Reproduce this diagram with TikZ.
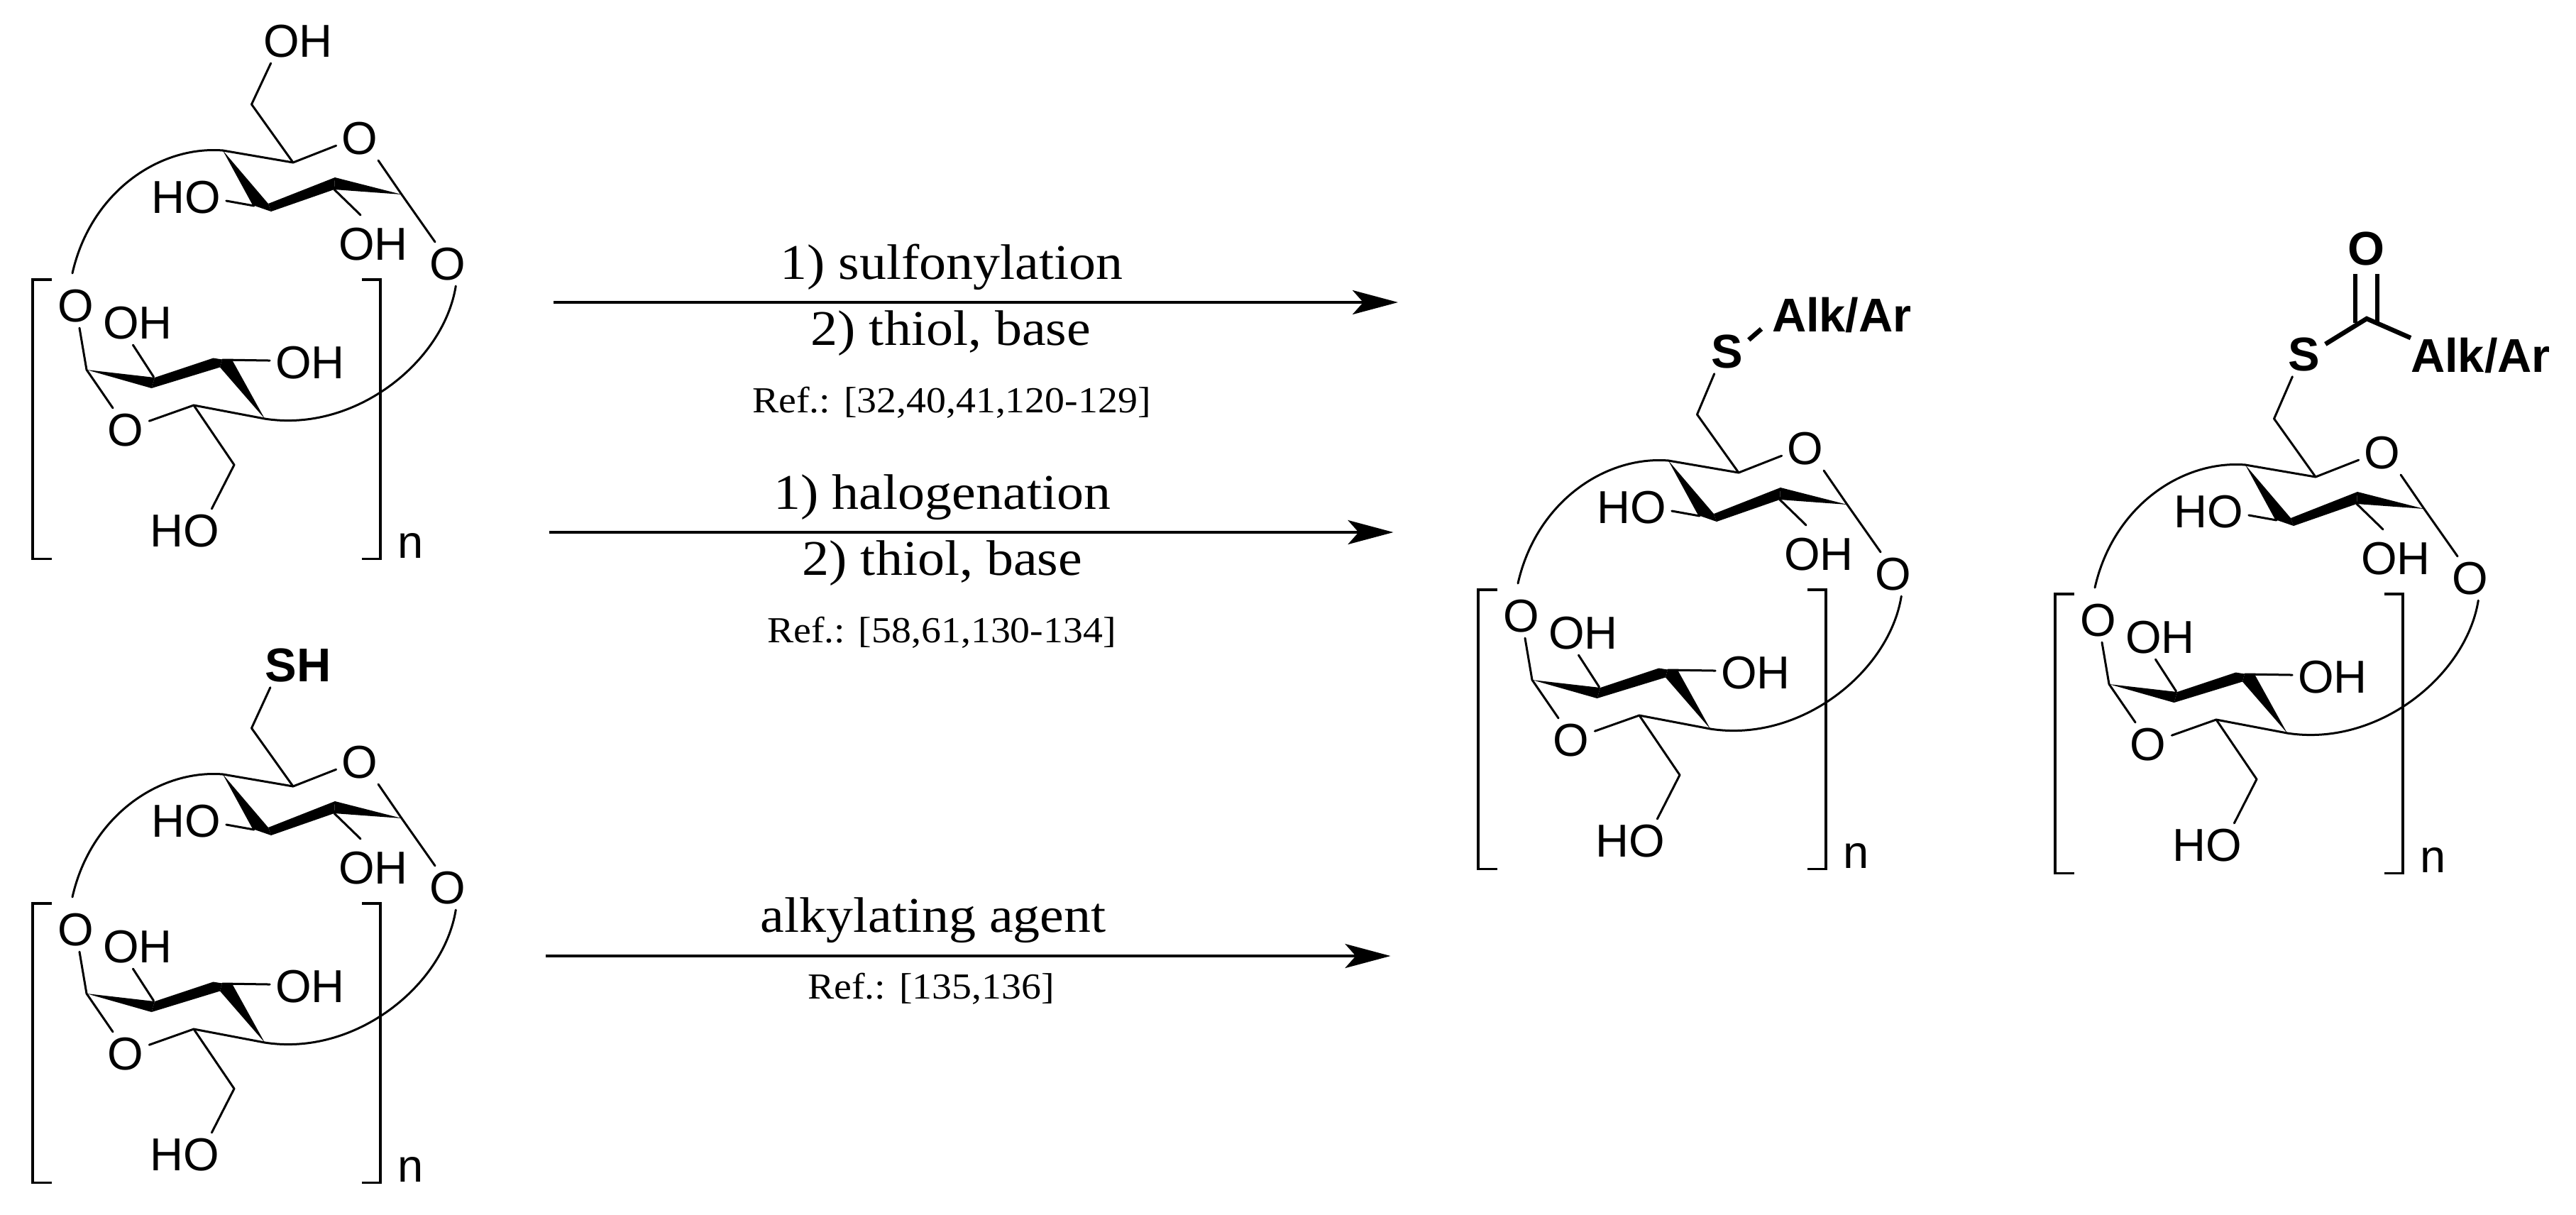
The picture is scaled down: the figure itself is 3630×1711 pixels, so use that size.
\documentclass[tikz,border=0pt]{standalone}
\usepackage{fontspec}
\setmainfont{Liberation Sans}
\newfontfamily\reagentfont[FakeStretch=1.08]{Liberation Serif}
\usetikzlibrary{arrows.meta}

\tikzset{
    bond/.style={line width=0.03cm, line cap=round, line join=round},
    heavybond/.style={line width=0.065cm},
    atom/.style={font=\fontsize{18.5}{20}\selectfont, inner sep=0.08cm, outer sep=0pt},
    boldatom/.style={font=\fontsize{19}{20}\selectfont\bfseries, inner sep=0.08cm, outer sep=0pt},
    reagent/.style={font=\fontsize{20}{22}\selectfont\reagentfont, inner sep=0pt, anchor=base},
    refs/.style={font=\fontsize{14.7}{16}\selectfont\reagentfont, inner sep=0pt, anchor=base},
    rxnarrow/.style={line width=0.04cm, -{Stealth[length=0.64cm,width=0.34cm,inset=0.15cm]}},
    sugar/.pic={
        % ring atoms
        \coordinate (c1) at (566,274);
        \coordinate (c2) at (471,267);
        \coordinate (c3) at (358,290);
        \coordinate (c4) at (314,212);
        \coordinate (c5) at (413,229);
        \coordinate (c6) at (354.5,147);
        \coordinate (a1) at (122,521);
        \coordinate (a2) at (216.5,531);
        \coordinate (a3) at (313.5,507);
        \coordinate (a4) at (373,590);
        \coordinate (a5) at (273,571);
        \coordinate (a6) at (330,655);
        \coordinate (arcstart) at (102,385);
        \node[atom] (ringO) at (507,195) {O};
        \node[atom] (bridgeO) at (631,372) {O};
        \node[atom] (leftO) at (106.5,431) {O};
        \node[atom] (lowO) at (177,606) {O};
        \node[atom] (ho3) at (262,278) {HO};
        \node[atom] (oh2) at (526,344) {OH};
        \node[atom] (oh2b) at (194,455) {OH};
        \node[atom] (oh3b) at (437,511) {OH};
        \node[atom] (ho6b) at (260,748) {HO};
        \node[atom, anchor=base] (nidx) at (579,786) {n};
        % upper ring
        \draw[bond] (c6)--(c5)--(ringO.197);
        \draw[bond] (c4)--(c5);
        \draw[bond] (ringO.310)--(c1)--(bridgeO.120);
        \fill (c4)--(378,287)--(382,298)--(356,289)--cycle;
        \fill (378,287)--(472,250)--(471,267)--(382,298)--cycle;
        \fill (472,250)--(c1)--(471,267)--cycle;
        \draw[bond] (ho3.355)--(c3);
        \draw[bond] (c2)--([yshift=0.1cm]oh2.120);
        % lower ring
        \draw[bond] (leftO.280)--(a1)--(lowO.120);
        \draw[bond] (lowO.21)--(a5)--(a4);
        \draw[bond] (a5)--(a6)--(ho6b.39);
        \fill (a1)--(218,532)--(213.5,547)--cycle;
        \fill (218,532)--(300.5,504.5)--(313,506.5)--(310,517.5)--(213.5,547)--cycle;
        \fill (313,506.5)--(327,507)--(a4)--(310,517.5)--cycle;
        \draw[bond] (a2)--(oh2b.258);
        \draw[bond] (a3)--(oh3b.177);
        % the two long arcs
        \draw[bond] (arcstart) .. controls (128,270) and (225,205) .. (c4);
        \draw[bond] (bridgeO.290) .. controls (625,510) and (500,610) .. (a4);
        % brackets
        \draw[line width=0.034cm] (72.5,394)--(46,394)--(46,787.5)--(72.5,787.5);
        \draw[line width=0.034cm] (510,394)--(536,394)--(536,787.5)--(510,787.5);
    }
}

\begin{document}
\begin{tikzpicture}[x=0.01cm,y=-0.01cm]
    \useasboundingbox (0,0) rectangle (3630,1711);

    % starting material
    \pic (unitA) at (0,0) {sugar};
    \node[atom] (topOH) at (420,58) {OH};
    \draw[bond] (unitAc6)--(topOH.219);

    % thiol
    \pic (unitB) at (0,879) {sugar};
    \node[boldatom] (topSH) at (420,937) {SH};
    \draw[bond] (unitBc6)--(topSH.219);

    % thioether
    \pic (unitC) at (2037,437) {sugar};
    \node[boldatom] (sulfurC) at (2434,495) {S};
    \node[boldatom, anchor=west, inner sep=0pt] (alkC) at (2497,444) {Alk/Ar};
    \coordinate (stubC) at (2482,463.5);
    \draw[bond] (unitCc6)--(sulfurC.240);
    \draw[heavybond] (sulfurC.28)--(stubC);

    % thioester
    \pic (unitD) at (2850,443) {sugar};
    \node[boldatom] (sulfurD) at (3246.5,499) {S};
    \node[boldatom] (oxoD) at (3334,350) {O};
    \node[boldatom, anchor=west, inner sep=0pt] (alkD) at (3397,501) {Alk/Ar};
    \coordinate (carbD) at (3335,449);
    \draw[bond] (unitDc6)--(sulfurD.243);
    \draw[heavybond] (sulfurD.25)--(carbD)--(alkD.north west);
    \draw[heavybond] (3319,386)--(3319,455);
    \draw[heavybond] (3350,386)--(3350,455);

    % reaction arrows
    \coordinate (arrowAs) at (780,426);
    \coordinate (arrowAe) at (1970,426);
    \coordinate (arrowBs) at (774,750);
    \coordinate (arrowBe) at (1963.5,750);
    \coordinate (arrowCs) at (769,1347);
    \coordinate (arrowCe) at (1959.5,1347);
    \draw[rxnarrow] (arrowAs)--(arrowAe);
    \draw[rxnarrow] (arrowBs)--(arrowBe);
    \draw[rxnarrow] (arrowCs)--(arrowCe);

    \node[reagent] (sulfonyl) at (1341,393) {1) sulfonylation};
    \node[reagent] (thiolA) at (1340,486) {2) thiol, base};
    \node[refs] (refA) at (1341,581) {Ref.: [32,40,41,120-129]};
    \node[reagent] (halogen) at (1328,717) {1) halogenation};
    \node[reagent] (thiolB) at (1328,810) {2) thiol, base};
    \node[refs] (refB) at (1327,905) {Ref.: [58,61,130-134]};
    \node[reagent] (alkyl) at (1315,1313) {alkylating agent};
    \node[refs] (refC) at (1312,1407) {Ref.: [135,136]};
\end{tikzpicture}
\end{document}
